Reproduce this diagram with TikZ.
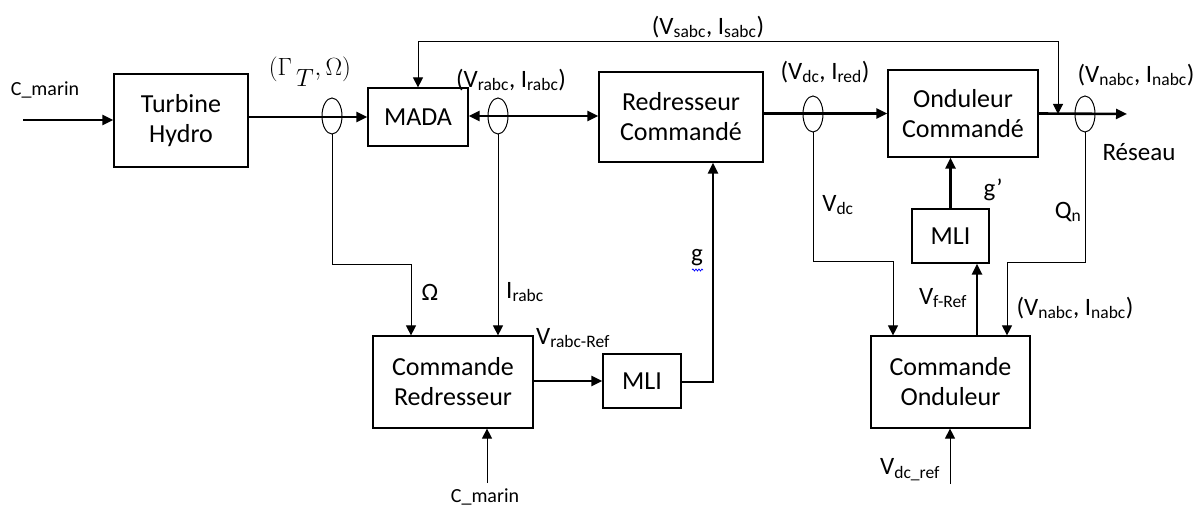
\documentclass[tikz,border=0pt]{standalone}
\usepackage{fontspec}
\setmainfont{Carlito}
\usetikzlibrary{arrows.meta,shapes.geometric,decorations.pathmorphing}
\newcommand{\sbs}[1]{\textsubscript{#1}}
\tikzset{
  blk/.style={draw,line width=1.2pt,inner sep=0pt,align=center,font=\fontsize{26}{30}\selectfont},
  sensor/.style={draw,ellipse,line width=1pt,minimum width=20pt,minimum height=36pt,inner sep=0pt},
  lbl/.style={inner sep=0pt,font=\fontsize{25}{29}\selectfont},
  small/.style={inner sep=0pt,font=\fontsize{20}{24}\selectfont},
  pw/.style={line width=2.6pt,-{Triangle[length=11pt,width=10pt]}},
  pwb/.style={line width=2.6pt,{Triangle[length=11pt,width=10pt]}-{Triangle[length=11pt,width=10pt]}},
  sig/.style={line width=1pt,-{Triangle[length=10pt,width=10pt]}},
}
\begin{document}
\begin{tikzpicture}[x=1pt,y=-1pt]
\useasboundingbox (0,0) rectangle (1201,510);
% blocks
\node[blk,minimum width=134pt,minimum height=93pt] (turb) at (181,120.5) {Turbine\\Hydro};
\node[blk,minimum width=100pt,minimum height=58pt] (mada) at (418,117) {MADA};
\node[blk,minimum width=164pt,minimum height=90pt] (red) at (681,117) {Redresseur\\Commandé};
\node[blk,minimum width=150pt,minimum height=87pt] (ond) at (963,113.5) {Onduleur\\Commandé};
\node[blk,minimum width=160pt,minimum height=92pt] (cr) at (453,382) {Commande\\Redresseur};
\node[blk,minimum width=78pt,minimum height=54pt] (mli1) at (642,381) {MLI};
\node[blk,minimum width=77pt,minimum height=54pt] (mli2) at (950.5,236) {MLI};
\node[blk,minimum width=159pt,minimum height=92pt] (co) at (950.5,382) {Commande\\Onduleur};
% sensors
\node[sensor] (e1) at (332,116) {};
\node[sensor] (e2) at (498,116) {};
\node[sensor] (e3) at (813,114) {};
\node[sensor] (e4) at (1085,114) {};
% coordinates
\coordinate (cin) at (23,120);
\coordinate (out) at (1127,114);
\coordinate (fb) at (1058,114);
\coordinate (top) at (418,42);
\coordinate (k1) at (411,265);
\coordinate (k2) at (713,382);
\coordinate (k3) at (893,262);
\coordinate (k4) at (1007,263);
\coordinate (k5) at (977,300);
\coordinate (cm) at (487,483);
\coordinate (vr) at (950,484);
% power path
\draw[pw] (cin) -- (turb.west|-cin);
\draw[pw] (turb.east|-mada) -- (mada.west);
\draw[pwb] (mada.east|-e2) -- (red.west|-e2);
\draw[pw] (red.east|-ond) -- (ond.west);
\draw[pw] (ond.east) -- (out);
% feedback stator
\draw[line width=1pt,{Triangle[length=10pt,width=10pt]}-{Triangle[length=10pt,width=10pt]}] (fb) -- (fb|-top) -| (mada.north);
% measurements
\draw[sig] (e1.south) |- (k1) -- (k1|-cr.north);
\draw[sig] (e2.south) -- (e2.south|-cr.north);
\draw[sig] (e3.south) |- (k3) -- (k3|-co.north);
\draw[sig] (e4.south) |- (k4) -- (k4|-co.north);
% control
\draw[pw] (cr.east|-mli1) -- (mli1.west);
\draw[pw] (mli1.east|-k2) -- (k2) -- (k2|-red.south);
\draw[sig] (cm) -- (cm|-cr.south);
\draw[pw] (co.north-|k5) -- (mli2.south-|k5);
\draw[pw] (mli2.north) -- (mli2.north|-ond.south);
\draw[sig] (vr) -- (vr|-co.south);
% labels
\node[small] (l1) at (45,90) {C\_marin};
\node[inner sep=0pt,font=\fontsize{25}{29}\selectfont] (l2) at (310,72) {$(\Gamma\hspace{4pt}\raisebox{-11pt}{$T$}\hspace{1pt},\Omega)$};
\node[lbl] (l3) at (708,27) {(V\sbs{sabc}, I\sbs{sabc})};
\node[lbl] (l4) at (511,80) {(V\sbs{rabc}, I\sbs{rabc})};
\node[lbl] (l5) at (825,72) {(V\sbs{dc}, I\sbs{red})};
\node[lbl] (l6) at (1136,75) {(V\sbs{nabc}, I\sbs{nabc})};
\node[lbl] (l7) at (1139,152) {Réseau};
\node[lbl] (l8) at (993,190) {g’};
\node[lbl] (l9) at (697,258) {g};
\draw[blue,line width=0.7pt,decorate,decoration={snake,amplitude=1pt,segment length=3pt}] (692,270) -- (703,270);
\node[lbl] (l10) at (838,205) {V\sbs{dc}};
\node[lbl] (l11) at (1068,212) {Q\sbs{n}};
\node[lbl] (l12) at (943,298) {V\sbs{f-Ref}};
\node[lbl] (l13) at (1075,308) {(V\sbs{nabc}, I\sbs{nabc})};
\node[lbl] (l14) at (910,470) {V\sbs{dc\_ref}};
\node[lbl] (l15) at (430,292) {Ω};
\node[lbl] (l16) at (525,292) {I\sbs{rabc}};
\node[lbl] (l17) at (573,338) {V\sbs{rabc-Ref}};
\node[small] (l18) at (485,497) {C\_marin};
\end{tikzpicture}
\end{document}
